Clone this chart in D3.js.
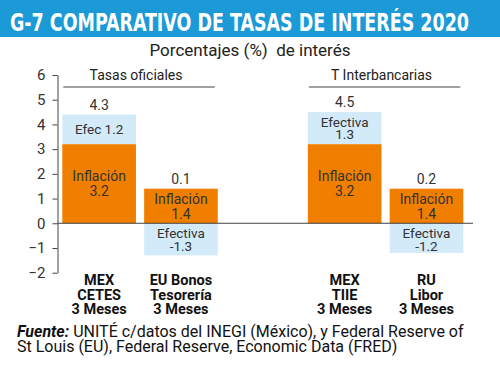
<!DOCTYPE html>
<html><head><meta charset="utf-8">
<script src="https://cdn.jsdelivr.net/npm/d3@7"></script>
<style>body{margin:0;background:#fff}svg{display:block}</style>
</head><body>
<script>
const categories = ["MEX|CETES|3 Meses", "EU Bonos|Tesorería|3 Meses", "", "MEX|TIIE|3 Meses", "RU|Libor|3 Meses"];
const inflacion = [3.2, 1.4, null, 3.2, 1.4];
const efectiva = [1.2, -1.3, null, 1.3, -1.2];
const nominal = [4.3, 0.1, null, 4.5, 0.2];
const efecLabels = [["Efec 1.2"], ["Efectiva", "-1.3"], null, ["Efectiva", "1.3"], ["Efectiva", "-1.2"]];
const yTicks = [-2, -1, 0, 1, 2, 3, 4, 5, 6];
const groups = [{name: "Tasas oficiales", from: 0, to: 1}, {name: "T Interbancarias", from: 3, to: 4}];

const W = 500, H = 369;
const font = "Roboto, 'Open Sans', sans-serif";
const svg = d3.select("body").append("svg").attr("width", W).attr("height", H);

// title bar
svg.append("rect").attr("x", 0).attr("y", 0).attr("width", W).attr("height", 37).attr("fill", "#1b9ad7");
svg.append("text").attr("x", 10).attr("y", 30.5).attr("fill", "#fff")
  .attr("font-family", "'Liberation Sans Narrow', 'DejaVu Sans Condensed', sans-serif")
  .attr("font-weight", "bold").attr("font-size", 25)
  .attr("textLength", 459).attr("lengthAdjust", "spacingAndGlyphs")
  .text("G-7 COMPARATIVO DE TASAS DE INTERÉS 2020");

svg.append("text").attr("x", 250).attr("y", 56).attr("text-anchor", "middle")
  .attr("font-family", font).attr("font-size", 17).attr("fill", "#222")
  .attr("xml:space", "preserve").text("Porcentajes (%)  de interés");

const y = d3.scaleLinear().domain([-2, 6]).range([272.7, 75]);
const x = d3.scaleBand().domain(d3.range(categories.length)).range([62.3, 463.3]).paddingInner(0.1).paddingOuter(0);

const ax = svg.append("g").attr("transform", "translate(57.5,0)")
  .call(d3.axisLeft(y).tickValues(yTicks).tickSize(5).tickSizeOuter(0).tickPadding(7).tickFormat(d3.format("d")));
ax.select(".domain").attr("stroke", "#444");
ax.selectAll(".tick line").attr("stroke", "#444");
ax.selectAll(".tick text").attr("font-family", font).attr("font-size", 15).attr("fill", "#333");

const idx = d3.range(categories.length).filter(i => inflacion[i] !== null);

// efectiva bars
svg.selectAll("rect.efec").data(idx).join("rect")
  .attr("x", i => x(i)).attr("width", x.bandwidth())
  .attr("y", i => efectiva[i] >= 0 ? y(inflacion[i] + efectiva[i]) : y(0))
  .attr("height", i => efectiva[i] >= 0 ? y(inflacion[i]) - y(inflacion[i] + efectiva[i]) : y(efectiva[i]) - y(0))
  .attr("fill", "#d3eaf8");
// inflacion bars
svg.selectAll("rect.inf").data(idx).join("rect")
  .attr("x", i => x(i)).attr("width", x.bandwidth())
  .attr("y", i => y(inflacion[i])).attr("height", i => y(0) - y(inflacion[i]))
  .attr("fill", "#f07f00");

// zero line
svg.append("line").attr("x1", 57.5).attr("x2", 473).attr("y1", y(0)).attr("y2", y(0)).attr("stroke", "#444");

const tc = "#333";
idx.forEach(i => {
  const cx = x(i) + x.bandwidth() / 2;
  const big = inflacion[i] > 2;
  const top = y(inflacion[i]);
  const y1 = big ? (top + y(0)) / 2 - 3 : top + 15;
  svg.append("text").attr("x", cx).attr("y", y1).attr("text-anchor", "middle")
    .attr("font-family", font).attr("font-size", 14).attr("fill", tc).text("Inflación");
  svg.append("text").attr("x", cx).attr("y", y1 + 15).attr("text-anchor", "middle")
    .attr("font-family", font).attr("font-size", 14).attr("fill", tc).text(inflacion[i].toFixed(1));
  const lab = efecLabels[i];
  let ey;
  if (efectiva[i] >= 0) {
    const t = y(inflacion[i] + efectiva[i]), b = y(inflacion[i]);
    ey = (t + b) / 2 + 5 - (lab.length - 1) * 6.5;
  } else {
    ey = y(0) + 15;
  }
  lab.forEach((s, k) => {
    svg.append("text").attr("x", cx).attr("y", ey + k * 12.5).attr("text-anchor", "middle")
      .attr("font-family", font).attr("font-size", 13.5).attr("fill", tc).text(s);
  });
  const ntop = efectiva[i] >= 0 ? y(inflacion[i] + efectiva[i]) : y(inflacion[i]);
  svg.append("text").attr("x", cx).attr("y", ntop - 5).attr("text-anchor", "middle")
    .attr("font-family", font).attr("font-size", 14).attr("fill", tc).text(nominal[i].toFixed(1));
  categories[i].split("|").forEach((s, k) => {
    svg.append("text").attr("x", cx).attr("y", 285 + k * 14.5).attr("text-anchor", "middle")
      .attr("font-family", font).attr("font-weight", "bold").attr("font-size", 14.5).attr("fill", "#111").text(s);
  });
});

// group headers
groups.forEach(g => {
  const x1 = x(g.from) + 1, x2 = x(g.to) + x.bandwidth() - 3;
  svg.append("text").attr("x", (x1 + x2) / 2 - 3).attr("y", 80).attr("text-anchor", "middle")
    .attr("font-family", font).attr("font-size", 14).attr("fill", "#222").text(g.name);
  svg.append("line").attr("x1", x1).attr("x2", x2).attr("y1", 87).attr("y2", 87).attr("stroke", "#444").attr("stroke-width", 1.2);
});

// footer
const f1 = svg.append("text").attr("x", 17).attr("y", 337).attr("font-family", font).attr("font-size", 16).attr("fill", "#111");
f1.append("tspan").attr("font-weight", "bold").attr("font-style", "italic").text("Fuente:");
f1.append("tspan").text(" UNITÉ c/datos del INEGI (México), y Federal Reserve of");
svg.append("text").attr("x", 17).attr("y", 352).attr("font-family", font).attr("font-size", 16).attr("fill", "#111")
  .text("St Louis (EU), Federal Reserve, Economic Data (FRED)");
</script>
</body></html>
